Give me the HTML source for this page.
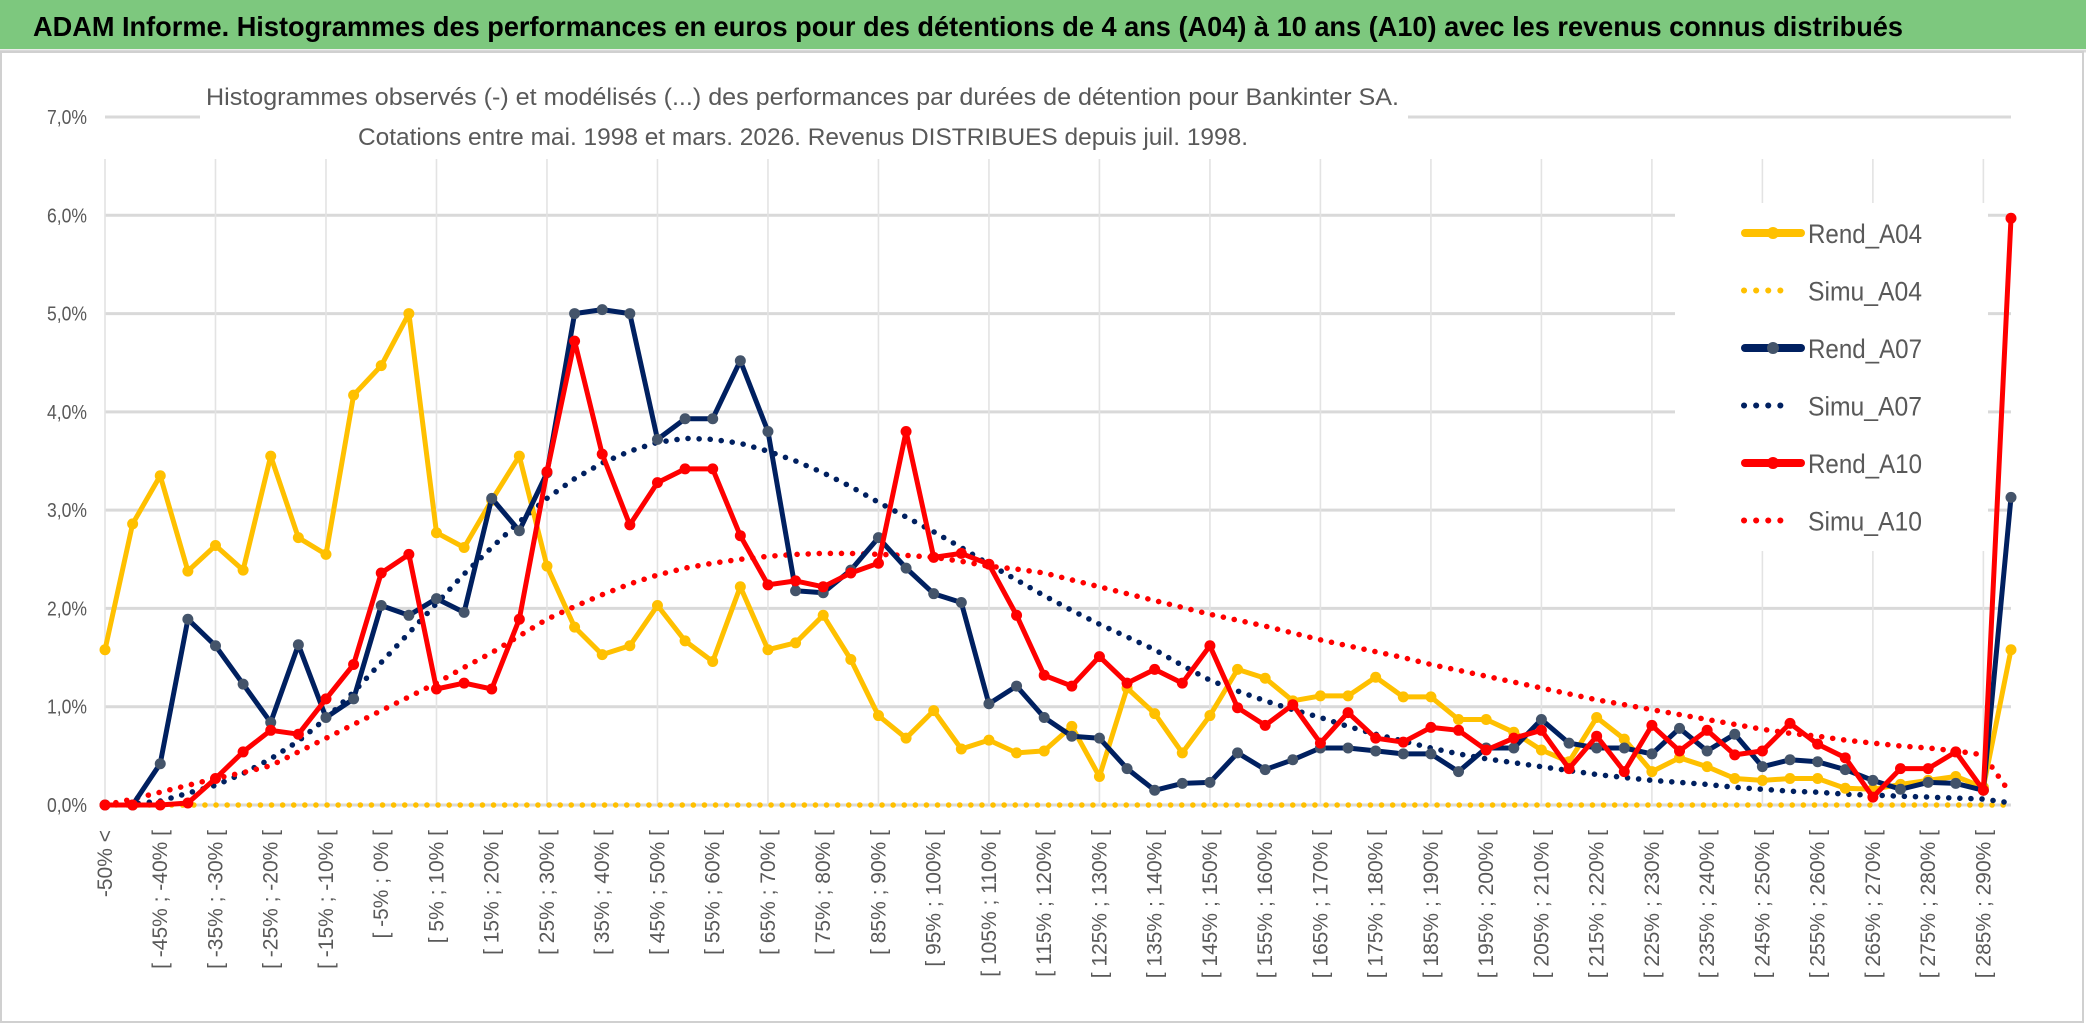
<!DOCTYPE html>
<html><head><meta charset="utf-8"><style>
html,body{margin:0;padding:0;background:#fff;}
svg{display:block;font-family:"Liberation Sans",sans-serif;}
</style></head><body>
<svg id="chart" width="2086" height="1031" viewBox="0 0 2086 1031" xmlns="http://www.w3.org/2000/svg">
<rect x="0" y="0" width="2086" height="1031" fill="#fff"/>
<rect x="0" y="0" width="2086" height="49" fill="#7DC87E"/>
<line x1="0" y1="51" x2="2086" y2="51" stroke="#d9d9d9" stroke-width="3"/>
<text x="33" y="36" font-size="28" font-weight="bold" fill="#000" textLength="1870" lengthAdjust="spacingAndGlyphs">ADAM Informe. Histogrammes des performances en euros pour des détentions de 4 ans (A04) à 10 ans (A10) avec les revenus connus distribués</text>
<rect x="1" y="52" width="2082" height="970" fill="none" stroke="#d0d0d0" stroke-width="2"/>
<g id="grid"></g>
<rect x="200" y="55" width="1208" height="104" fill="#fff"/>
<rect x="1675" y="203" width="313" height="348" fill="#fff"/>
<text x="206" y="105" font-size="24" fill="#595959" textLength="1193" lengthAdjust="spacingAndGlyphs">Histogrammes observés (-) et modélisés (...) des performances par durées de détention pour Bankinter SA.</text>
<text x="358" y="145" font-size="24" fill="#595959" textLength="890" lengthAdjust="spacingAndGlyphs">Cotations entre mai. 1998 et mars. 2026. Revenus DISTRIBUES depuis juil. 1998.</text>
<g id="yaxis"></g>
<g id="xaxis"></g>
<g id="series"></g>
<g id="legend"></g>
</svg>
<script>
const categories = [];
categories.push('-50% <');
for (let k = 1; k < 70; k++) { categories.push('[ ' + (-55 + 5 * k) + '% ; ' + (-50 + 5 * k) + '% ['); }
const yTicks = [0, 1, 2, 3, 4, 5, 6, 7];
const yTickLabels = ['0,0%', '1,0%', '2,0%', '3,0%', '4,0%', '5,0%', '6,0%', '7,0%'];
const seriesNames = ['Rend_A04', 'Simu_A04', 'Rend_A07', 'Simu_A07', 'Rend_A10', 'Simu_A10'];
const rendA04 = [1.58,2.86,3.35,2.38,2.64,2.39,3.55,2.72,2.55,4.17,4.47,5.0,2.77,2.62,3.1,3.55,2.43,1.81,1.53,1.62,2.03,1.67,1.46,2.22,1.58,1.65,1.93,1.48,0.91,0.68,0.96,0.57,0.66,0.53,0.55,0.8,0.29,1.19,0.93,0.53,0.91,1.38,1.29,1.06,1.11,1.11,1.3,1.1,1.1,0.87,0.87,0.74,0.56,0.44,0.89,0.67,0.34,0.48,0.39,0.27,0.25,0.27,0.27,0.17,0.16,0.21,0.25,0.29,0.18,1.58];
const simuA04 = new Array(70).fill(0);
const rendA07 = [0,0,0.42,1.89,1.62,1.23,0.84,1.63,0.89,1.08,2.03,1.93,2.1,1.96,3.12,2.79,3.38,5.0,5.04,5.0,3.72,3.93,3.93,4.52,3.8,2.18,2.16,2.39,2.72,2.41,2.15,2.06,1.03,1.21,0.89,0.7,0.68,0.37,0.15,0.22,0.23,0.53,0.36,0.46,0.58,0.58,0.55,0.52,0.52,0.34,0.58,0.58,0.87,0.63,0.58,0.58,0.52,0.78,0.55,0.72,0.39,0.46,0.44,0.36,0.25,0.16,0.23,0.22,0.15,3.13];
const simuA07 = [0,0.01,0.04,0.12,0.2,0.32,0.47,0.65,0.88,1.15,1.45,1.75,2.05,2.35,2.62,2.88,3.12,3.32,3.48,3.6,3.69,3.73,3.72,3.68,3.6,3.5,3.38,3.24,3.08,2.93,2.78,2.62,2.45,2.29,2.13,1.98,1.84,1.71,1.58,1.42,1.27,1.16,1.06,0.97,0.89,0.8,0.72,0.65,0.58,0.52,0.47,0.43,0.39,0.35,0.31,0.28,0.25,0.23,0.21,0.18,0.16,0.14,0.13,0.11,0.1,0.09,0.08,0.07,0.06,0.02];
const rendA10 = [0,0,0,0.02,0.27,0.54,0.76,0.72,1.08,1.43,2.36,2.55,1.18,1.24,1.18,1.89,3.39,4.72,3.57,2.85,3.28,3.42,3.42,2.74,2.24,2.28,2.22,2.36,2.46,3.8,2.52,2.56,2.45,1.93,1.32,1.21,1.51,1.24,1.38,1.24,1.62,0.99,0.81,1.02,0.63,0.94,0.68,0.64,0.79,0.76,0.56,0.68,0.76,0.37,0.7,0.34,0.81,0.55,0.76,0.51,0.55,0.83,0.62,0.48,0.08,0.37,0.37,0.54,0.15,5.97];
const simuA10 = [0,0.06,0.13,0.2,0.27,0.33,0.4,0.54,0.68,0.82,0.96,1.1,1.24,1.4,1.55,1.72,1.89,2.02,2.14,2.25,2.34,2.41,2.46,2.5,2.53,2.55,2.56,2.56,2.55,2.54,2.52,2.48,2.43,2.4,2.36,2.29,2.22,2.15,2.08,2.01,1.94,1.88,1.82,1.75,1.68,1.62,1.56,1.5,1.43,1.37,1.31,1.25,1.19,1.13,1.07,1.02,0.97,0.92,0.87,0.82,0.77,0.73,0.7,0.66,0.63,0.6,0.58,0.55,0.51,0.11];

const NS = 'http://www.w3.org/2000/svg';
const X0 = 105, X1 = 2011, Y0 = 805, Y7 = 117;
function xScale(i) { return X0 + i * (X1 - X0) / (categories.length - 1); }
function yScale(v) { return Y0 - v * (Y0 - Y7) / 7; }
function mk(tag, attrs, parent) { const e = document.createElementNS(NS, tag); for (const k in attrs) e.setAttribute(k, attrs[k]); parent.appendChild(e); return e; }

const grid = document.getElementById('grid');
yTicks.forEach(function (t) {
  const l = mk('line', { x1: X0, x2: X1, y1: yScale(t), y2: yScale(t), stroke: '#d9d9d9', 'stroke-width': 3 }, grid);
  
  
});
for (let i = 0; i < categories.length; i += 4) {
  const l = mk('line', { x1: xScale(i), x2: xScale(i), y1: yScale(0), y2: 159, stroke: '#e3e3e3', 'stroke-width': 1.6 }, grid);
  
  
}

const yaxis = document.getElementById('yaxis');
yTicks.forEach(function (t, i) {
  const tx = mk('text', { x: 87, y: yScale(t) + 7, 'font-size': 20, fill: '#595959', 'text-anchor': 'end', textLength: 40, lengthAdjust: 'spacingAndGlyphs' }, yaxis);
  tx.textContent = yTickLabels[i];
  
  
});

const xaxis = document.getElementById('xaxis');
categories.forEach(function (c, i) {
  if (i % 2 !== 0) return;
  const x = xScale(i) + 7, y = 830;
  const tx = mk('text', { x: x, y: y, 'font-size': 21, fill: '#595959', 'text-anchor': 'end', transform: 'rotate(-90 ' + x + ' ' + y + ')' }, xaxis);
  tx.textContent = c;
  
  
});

const seriesG = document.getElementById('series');
function pts(vals) { return vals.map(function (v, i) { return xScale(i).toFixed(1) + ',' + yScale(v).toFixed(1); }).join(' '); }
function dotted(vals, color, name) {
  const p = mk('polyline', { points: pts(vals), fill: 'none', stroke: color, 'stroke-width': 5.5, 'stroke-dasharray': '0.1 11', 'stroke-linecap': 'round', 'stroke-linejoin': 'round' }, seriesG);
  
  
}
function solid(vals, color, mcolor, name) {
  const g = mk('g', {}, seriesG);
  
  
  mk('polyline', { points: pts(vals), fill: 'none', stroke: color, 'stroke-width': 5, 'stroke-linejoin': 'round' }, g);
  vals.forEach(function (v, i) {
    const c = mk('circle', { cx: xScale(i), cy: yScale(v), r: 5.5, fill: mcolor }, g);
    
    
  });
}
dotted(simuA04, '#FFC000', 'simu-a04-line');
dotted(simuA07, '#002060', 'simu-a07-line');
dotted(simuA10, '#FF0000', 'simu-a10-line');
solid(rendA04, '#FFC000', '#FFC000', 'rend-a04-line');
solid(rendA07, '#002060', '#44546A', 'rend-a07-line');
solid(rendA10, '#FF0000', '#FF0000', 'rend-a10-line');

const legend = document.getElementById('legend');
const legColors = ['#FFC000', '#FFC000', '#002060', '#002060', '#FF0000', '#FF0000'];
const legMarker = ['#FFC000', null, '#44546A', null, '#FF0000', null];
seriesNames.forEach(function (n, i) {
  const y = 233 + i * 57.5;
  const g = mk('g', {}, legend);
  
  
  if (legMarker[i]) {
    mk('line', { x1: 1745, x2: 1801, y1: y, y2: y, stroke: legColors[i], 'stroke-width': 8, 'stroke-linecap': 'round' }, g);
    mk('circle', { cx: 1773, cy: y, r: 6, fill: legMarker[i] }, g);
  } else {
    mk('line', { x1: 1744, x2: 1790, y1: y, y2: y, stroke: legColors[i], 'stroke-width': 6, 'stroke-dasharray': '0.1 12', 'stroke-linecap': 'round' }, g);
  }
  const t = mk('text', { x: 1808, y: y + 10, 'font-size': 27, fill: '#595959', textLength: 114, lengthAdjust: 'spacingAndGlyphs' }, g);
  t.textContent = n;
});
</script>
</body></html>
